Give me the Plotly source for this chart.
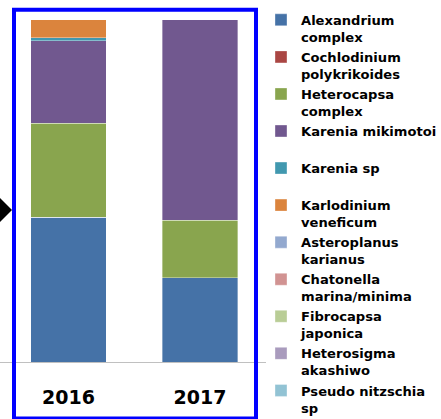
import plotly.graph_objects as go

# ---- data (percent of total) ----
years = ["2016", "2017"]
species = [
    "Alexandrium<br>complex",
    "Cochlodinium<br>polykrikoides",
    "Heterocapsa<br>complex",
    "Karenia mikimotoi<br>&nbsp;",
    "Karenia sp<br>&nbsp;",
    "Karlodinium<br>veneficum",
    "Asteroplanus<br>karianus",
    "Chatonella<br>marina/minima",
    "Fibrocapsa<br>japonica",
    "Heterosigma<br>akashiwo",
    "Pseudo nitzschia<br>sp",
]
alexandrium = [42.3, 24.7]
cochlodinium = [0.0, 0.0]
heterocapsa = [27.5, 16.8]
karenia_mikimotoi = [24.0, 58.5]
karenia_sp = [0.9, 0.0]
karlodinium = [5.3, 0.0]
asteroplanus = [0.0, 0.0]
chatonella = [0.0, 0.0]
fibrocapsa = [0.0, 0.0]
heterosigma = [0.0, 0.0]
pseudo_nitzschia = [0.0, 0.0]

series = [alexandrium, cochlodinium, heterocapsa, karenia_mikimotoi, karenia_sp,
          karlodinium, asteroplanus, chatonella, fibrocapsa, heterosigma, pseudo_nitzschia]
colors = ["#4572A7", "#AA4643", "#89A54E", "#71588F", "#4198AF", "#DB843D",
          "#93A9CF", "#D19392", "#B9CD96", "#A99BBD", "#92C3D4"]

W, H = 441, 419
PLOT_W = 266  # pixel width of plot area (left margin 0)

fig = go.Figure()
for name, vals, col in zip(species, series, colors):
    fig.add_trace(go.Bar(
        x=years, y=vals, name=name,
        marker=dict(color=col, line=dict(color="rgba(255,255,255,0.6)", width=0.6)),
    ))

def px_x(p):
    return p / PLOT_W

def px_y(p):
    return (H - p) / H

shapes = [
    # blue frame around the chart
    dict(type="rect", xref="paper", yref="paper",
         x0=px_x(14), x1=px_x(256), y0=px_y(418.5), y1=px_y(9.8),
         line=dict(color="#0000FF", width=4), fillcolor="rgba(0,0,0,0)", layer="above"),
    # black pointer at left
    dict(type="path", xref="paper", yref="paper",
         path="M {} {} L {} {} L {} {} Z".format(px_x(-3), px_y(195), px_x(12), px_y(210), px_x(-3), px_y(225)),
         fillcolor="#000000", line=dict(width=0), layer="above"),
]

fig.update_layout(
    width=W, height=H,
    margin=dict(l=0, r=W - PLOT_W, t=0, b=0, autoexpand=False),
    paper_bgcolor="white", plot_bgcolor="white",
    barmode="stack", bargap=0.4266,
    showlegend=True,
    legend=dict(
        x=261 / PLOT_W, xanchor="left", y=px_y(4.8), yanchor="top",
        traceorder="normal", valign="top",
        font=dict(family="DejaVu Sans", size=13.1, color="#000000", weight="bold"),
        bgcolor="rgba(0,0,0,0)", borderwidth=0,
    ),
    xaxis=dict(
        type="category", range=[-0.5209, 1.5019],
        showline=True, linecolor="#C0C0C0", linewidth=1,
        showgrid=False, zeroline=False, ticks="",
        tickfont=dict(family="DejaVu Sans", size=19, color="#000000", weight="bold"),
        ticklabelstandoff=18,
    ),
    yaxis=dict(
        range=[0, 100], domain=[(H - 362.3) / H, (H - 19.5) / H],
        showgrid=False, zeroline=False, showline=False, showticklabels=False, ticks="",
    ),
    shapes=shapes,
)

fig.write_html("out.html", config={"displayModeBar": False},
               post_script="document.body.style.margin='0px';")
